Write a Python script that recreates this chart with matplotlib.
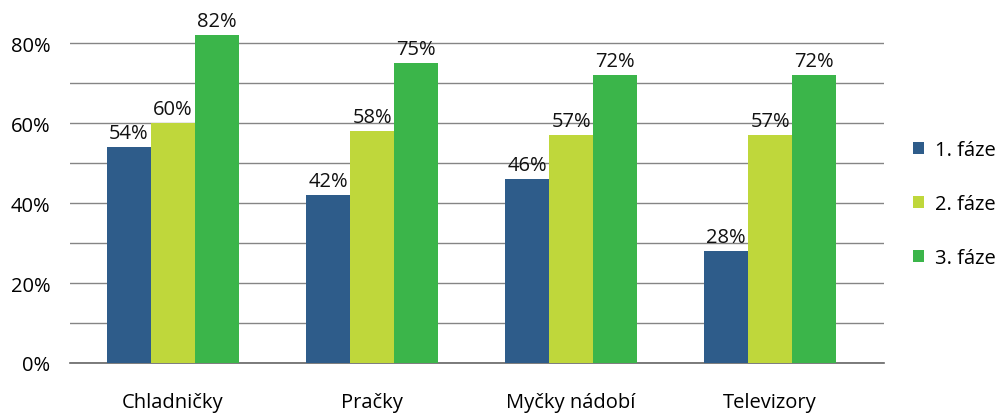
import matplotlib
matplotlib.use("Agg")
import matplotlib.pyplot as plt
import numpy as np

categories = ["Chladničky", "Pračky", "Myčky nádobí", "Televizory"]
series_names = ["1. fáze", "2. fáze", "3. fáze"]
faze1 = [54, 42, 46, 28]
faze2 = [60, 58, 57, 57]
faze3 = [82, 75, 72, 72]
colors = ["#2E5C8A", "#BFD73B", "#3BB54A"]

plt.rcParams['font.family'] = ['Open Sans', 'DejaVu Sans']
fs = 14.5

fig = plt.figure(figsize=(9.99, 4.14), dpi=100)
ax = fig.add_axes([0.070, 0.1208, 0.815, 0.869])

x = np.arange(len(categories))
w = 0.221
for i, (vals, name, c) in enumerate(zip([faze1, faze2, faze3], series_names, colors)):
    pos = x + (i - 1) * w
    ax.bar(pos, vals, width=w, color=c, label=name, zorder=3)
    for p, v in zip(pos, vals):
        ax.text(p, v + 1.0, f"{v}%", ha="center", va="bottom", fontsize=fs, color="#111111", zorder=4)

ax.set_xlim(-0.518, 3.572)
ax.set_ylim(0, 90)
ax.set_yticks(range(0, 81, 20))
ax.set_yticklabels([f"{v}%" for v in range(0, 81, 20)], fontsize=fs)
ax.set_yticks(range(10, 80, 20), minor=True)
ax.grid(axis="y", which="both", color="#858585", linewidth=1, zorder=0)
ax.axhline(0, color="#666666", linewidth=1.2, clip_on=False, zorder=2)
ax.set_xticks(x)
ax.set_xticklabels(categories, fontsize=fs)
ax.tick_params(axis="both", which="both", length=0)
ax.tick_params(axis="y", pad=14)
ax.tick_params(axis="x", pad=21)
for s in ax.spines.values():
    s.set_visible(False)

leg = fig.legend(loc="center left", bbox_to_anchor=(0.914, 0.505), frameon=False,
                 fontsize=fs, handlelength=0.55, handleheight=0.55, labelspacing=1.68,
                 handletextpad=0.55, borderaxespad=0, borderpad=0)

fig.savefig("out.png", dpi=100)
